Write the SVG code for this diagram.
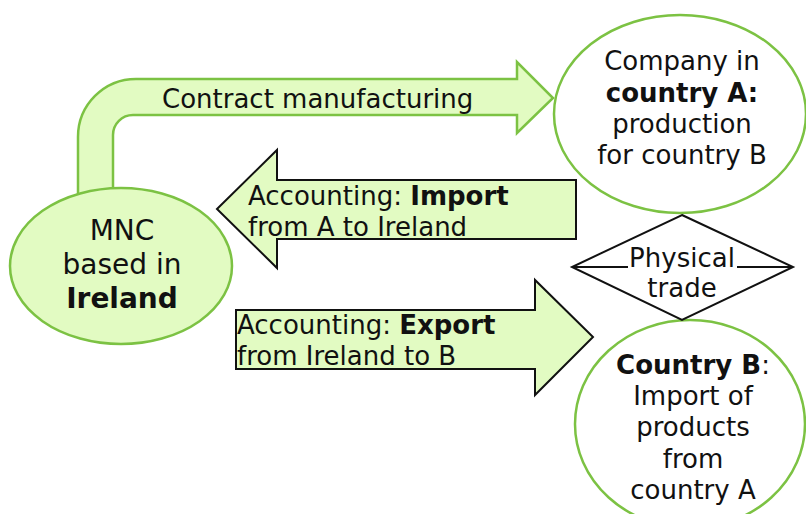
<svg xmlns="http://www.w3.org/2000/svg" width="806" height="514" viewBox="0 0 806 514">
<style>
.t{font-family:"DejaVu Sans","Verdana",sans-serif;font-size:26px;fill:#111}
.b{font-weight:bold}
.g{fill:#e2fbc2;stroke:#7cc243;stroke-width:2.5}
.w{fill:#ffffff;stroke:#7cc243;stroke-width:2.5}
.k{fill:#e2fbc2;stroke:#111;stroke-width:2}
</style>
<rect width="806" height="514" fill="#ffffff"/>
<g id="connectors">
<g id="contract">
<path class="g" d="M78,200 L78,137 A58,58 0 0 1 136,79 L517,79 L517,62 L553,98 L517,133 L517,115 L133,115 A20,20 0 0 0 113,135 L113,200 Z"/>
<text class="t" x="162" y="108">Contract manufacturing</text>
</g>
<g id="import">
<path class="k" d="M217,209 L277,150 L277,180 L576,180 L576,239 L277,239 L277,268 Z"/>
<text class="t" x="248" y="205">Accounting: <tspan class="b">Import</tspan></text>
<text class="t" x="248" y="236">from A to Ireland</text>
</g>
<g id="export">
<path class="k" d="M236,310 L535,310 L535,280 L593,337 L535,395 L535,369 L236,369 Z"/>
<text class="t" x="237" y="334">Accounting: <tspan class="b">Export</tspan></text>
<text class="t" x="237" y="365">from Ireland to B</text>
</g>
</g>
<g id="mnc">
<ellipse class="g" cx="121" cy="266" rx="111" ry="78"/>
<text class="t" style="font-size:28px" text-anchor="middle" x="122" y="240">MNC</text>
<text class="t" style="font-size:28px" text-anchor="middle" x="122" y="274">based in</text>
<text class="t b" style="font-size:28px" text-anchor="middle" x="122" y="308">Ireland</text>
</g>
<g id="companyA">
<ellipse class="w" cx="680" cy="114" rx="126" ry="99"/>
<text class="t" text-anchor="middle" x="682" y="70">Company in</text>
<text class="t b" text-anchor="middle" x="682" y="102">country A:</text>
<text class="t" text-anchor="middle" x="682" y="133">production</text>
<text class="t" text-anchor="middle" x="682" y="164">for country B</text>
</g>
<g id="countryB">
<ellipse class="w" cx="690" cy="424" rx="115" ry="104"/>
<text class="t" text-anchor="middle" x="693" y="374"><tspan class="b">Country B</tspan>:</text>
<text class="t" text-anchor="middle" x="693" y="405">Import of</text>
<text class="t" text-anchor="middle" x="693" y="436">products</text>
<text class="t" text-anchor="middle" x="693" y="468">from</text>
<text class="t" text-anchor="middle" x="693" y="499">country A</text>
</g>
<g id="physical">
<path d="M682,215 L793,267 L682,320 L572,267 Z" fill="#ffffff" stroke="#111" stroke-width="2"/>
<line x1="572" y1="267" x2="628" y2="267" stroke="#111" stroke-width="2"/>
<line x1="737" y1="267" x2="793" y2="267" stroke="#111" stroke-width="2"/>
<text class="t" text-anchor="middle" x="682" y="267">Physical</text>
<text class="t" text-anchor="middle" x="682" y="297">trade</text>
</g>
</svg>
